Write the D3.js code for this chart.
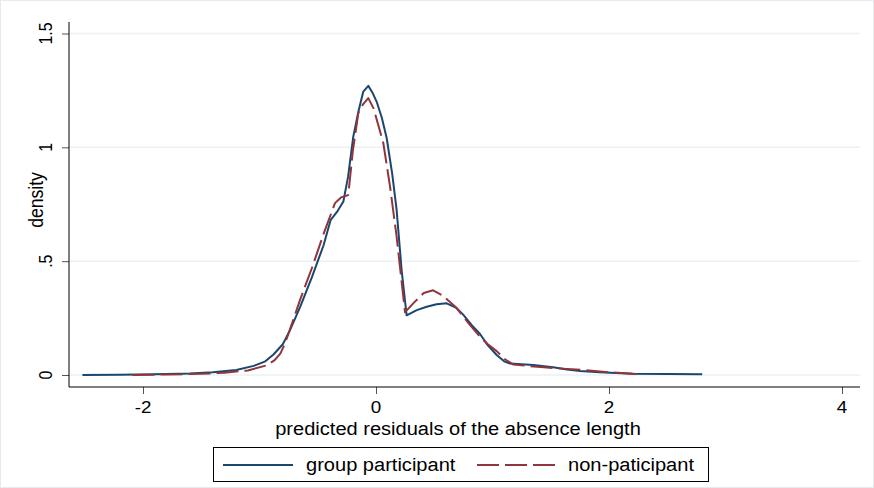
<!DOCTYPE html>
<html><head><meta charset="utf-8">
<script src="https://cdn.jsdelivr.net/npm/d3@7"></script>
<style>body{margin:0;background:#fff}svg{display:block}</style>
</head><body>
<script>
const xTicks = [-2, 0, 2, 4];
const yTicks = [0, 0.5, 1, 1.5];
const yTickLabels = ["0", ".5", "1", "1.5"];
const seriesNames = ["group participant", "non-paticipant"];

const participantX = [-2.52,-2.2,-1.9,-1.6,-1.4,-1.2,-1.05,-0.95,-0.88,-0.8,-0.74,-0.65,-0.55,-0.45,-0.39,-0.33,-0.28,-0.24,-0.195,-0.15,-0.109,-0.066,-0.03,0.006,0.05,0.092,0.14,0.177,0.22,0.263,0.35,0.435,0.52,0.607,0.69,0.75,0.82,0.893,0.96,1.036,1.1,1.15,1.25,1.35,1.52,1.64,1.75,1.92,2.2,2.5,2.8];
const participantY = [0,0.001,0.003,0.007,0.012,0.022,0.04,0.06,0.09,0.135,0.195,0.3,0.43,0.57,0.68,0.72,0.762,0.87,1.047,1.16,1.245,1.27,1.24,1.2,1.13,1.04,0.88,0.725,0.46,0.262,0.285,0.3,0.311,0.315,0.295,0.264,0.22,0.18,0.13,0.088,0.06,0.05,0.047,0.044,0.034,0.024,0.018,0.012,0.006,0.004,0.003];

const nonX = [-2.09,-1.8,-1.5,-1.3,-1.1,-0.94,-0.87,-0.82,-0.78,-0.74,-0.652,-0.55,-0.45,-0.352,-0.3,-0.238,-0.2,-0.152,-0.11,-0.066,-0.02,0.063,0.12,0.177,0.249,0.33,0.41,0.49,0.57,0.69,0.79,0.893,0.96,1.036,1.11,1.18,1.3,1.44,1.6,1.78,2.0,2.27];
const nonY = [0,0.002,0.005,0.01,0.02,0.042,0.065,0.095,0.14,0.198,0.33,0.47,0.62,0.755,0.78,0.79,0.98,1.15,1.19,1.216,1.17,1.018,0.83,0.608,0.276,0.32,0.36,0.372,0.35,0.295,0.23,0.168,0.135,0.105,0.068,0.046,0.04,0.034,0.028,0.022,0.012,0.003];

const W = 874, H = 488;
const colors = ["#1a476f", "#90353b"];
const font = "'Liberation Sans', Arial, sans-serif";
const SX = 1.14; // horizontal stretch of the original rendering

const svg = d3.select("body").append("svg").attr("width", W).attr("height", H);
svg.append("rect").attr("x",0.5).attr("y",0.5).attr("width",W-1).attr("height",H-1)
  .attr("fill","#fff").attr("stroke","#e4ecee");

const x = d3.scaleLinear().domain([-2, 4]).range([143, 842]);
const y = d3.scaleLinear().domain([0, 1.5]).range([375, 33.5]);
const plotL = 69, plotR = 860, plotB = 387, plotT = 22;

function label(g, px, py, str, size, anchor, rot) {
  return g.append("text")
    .attr("transform", `translate(${px},${py}) scale(${SX},1)` + (rot ? " rotate(-90)" : ""))
    .attr("text-anchor", anchor).attr("font-family", font).attr("font-size", size)
    .attr("fill", "#000").text(str);
}

// grid
svg.append("g").selectAll("line").data(yTicks).join("line")
  .attr("x1", plotL).attr("x2", plotR).attr("y1", d => y(d)).attr("y2", d => y(d))
  .attr("stroke", "#eaf2f3").attr("stroke-width", 1.5);

// y axis
const yAxis = d3.axisLeft(y).tickValues(yTicks).tickFormat(() => "").tickSize(7);
const gy = svg.append("g").attr("transform", `translate(${plotL},0)`).call(yAxis);
gy.select(".domain").remove();
gy.append("line").attr("x1",0).attr("x2",0).attr("y1",plotT).attr("y2",plotB).attr("stroke","#000");
gy.selectAll(".tick line").attr("stroke","#555");
gy.selectAll(".tick text").remove();
yTicks.forEach((d,i) => label(svg, 52, y(d), yTickLabels[i], 16, "middle", true));

// x axis
const xAxis = d3.axisBottom(x).tickValues(xTicks).tickFormat(() => "").tickSize(7);
const gx = svg.append("g").attr("transform", `translate(0,${plotB})`).call(xAxis);
gx.select(".domain").remove();
gx.append("line").attr("x1",plotL).attr("x2",plotR).attr("y1",0).attr("y2",0).attr("stroke","#000");
gx.selectAll(".tick line").attr("stroke","#555");
gx.selectAll(".tick text").remove();
xTicks.forEach(d => label(svg, x(d), 413, d < 0 ? "-" + Math.abs(d) : String(d), 16.5, "middle", false));

// titles
label(svg, 458, 435, "predicted residuals of the absence length", 17.6, "middle", false);
label(svg, 43, 200, "density", 17.6, "middle", true);

// lines
const line = d3.line().x(d => x(d[0])).y(d => y(d[1])).curve(d3.curveLinear);
const s1 = participantX.map((v,i) => [v, participantY[i]]);
const s2 = nonX.map((v,i) => [v, nonY[i]]);
svg.append("path").attr("d", line(s1)).attr("fill","none").attr("stroke", colors[0])
  .attr("stroke-width", 2).attr("stroke-linejoin","round");
svg.append("path").attr("d", line(s2)).attr("fill","none").attr("stroke", colors[1])
  .attr("stroke-width", 2).attr("stroke-dasharray","22,6").attr("stroke-linejoin","round");

// legend
const lg = svg.append("g");
lg.append("rect").attr("x", 213.5).attr("y", 447.5).attr("width", 495).attr("height", 34)
  .attr("fill","#fff").attr("stroke","#000");
lg.append("line").attr("x1",223).attr("x2",293).attr("y1",465).attr("y2",465).attr("stroke",colors[0]).attr("stroke-width",2);
lg.append("line").attr("x1",477).attr("x2",558).attr("y1",465).attr("y2",465).attr("stroke",colors[1]).attr("stroke-width",2).attr("stroke-dasharray","22,6");
label(lg, 306, 471, seriesNames[0], 17.6, "start", false);
label(lg, 568, 471, seriesNames[1], 17.6, "start", false);
</script>
</body></html>
